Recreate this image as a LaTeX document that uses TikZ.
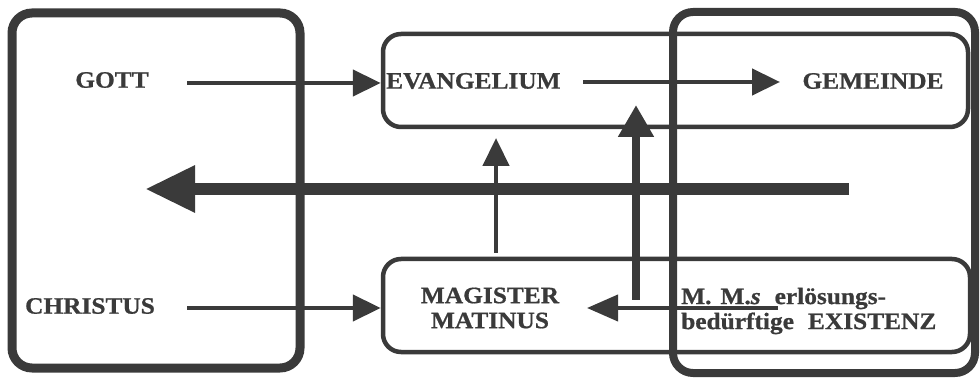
\documentclass[tikz,border=0pt]{standalone}
\usepackage{fontspec}
\setmainfont{Liberation Serif}[FakeStretch=1.08, BoldFeatures={FakeBold=0.8}, BoldItalicFeatures={FakeBold=0.8}]
\usetikzlibrary{arrows.meta}
\definecolor{ink}{RGB}{58,58,58}
\tikzset{
  bigbox/.style={draw=ink, line width=9pt, rounded corners=20pt, inner sep=0pt},
  tallbox/.style={draw=ink, line width=8pt, rounded corners=20pt, inner sep=0pt},
  rowbox/.style={draw=ink, line width=4.5pt, rounded corners=18pt, inner sep=0pt},
  lbl/.style={text=ink, font=\fontsize{23.5}{25}\selectfont\bfseries, inner sep=0pt},
  arr/.style={draw=ink, line width=4.5pt, -{Triangle[length=28pt,width=26pt]}},
  thickarr/.style={draw=ink, line width=8pt, -{Triangle[length=32pt,width=34pt]}},
  hugearr/.style={draw=ink, line width=12pt, -{Triangle[length=50pt,width=44pt]}}
}
\begin{document}
\begin{tikzpicture}[x=1pt,y=-1pt]
\useasboundingbox (0,0) rectangle (980,379);
% boxes
\node[bigbox, minimum width=288pt, minimum height=355pt] (lbox) at (156,190.5) {};
\node[rowbox, minimum width=585pt, minimum height=93pt] (evbox) at (675.5,80.5) {};
\node[rowbox, minimum width=587pt, minimum height=93pt] (magbox) at (676.5,305.5) {};
\node[tallbox, minimum width=302pt, minimum height=361pt] (tbox) at (824,192.5) {};
% labels
\node[lbl] (gott) at (112,80) {GOTT};
\node[lbl] (christus) at (90,306) {CHRISTUS};
\node[lbl, anchor=west] (evang) at (386,81) {EVANGELIUM};
\node[lbl] (gemeinde) at (873,81) {GEMEINDE};
\node[lbl, align=center] (magister) at (490,308) {MAGISTER\\MATINUS};
\node[lbl, align=left, anchor=west] (existenz) at (681,311) {M.\hspace{9pt}M.{\itshape s}\hspace{14pt}erlösungs-\\bedürftige\hspace{14pt}EXISTENZ};
% connector end points
\coordinate (gottS) at (187,83);
\coordinate (christS) at (187,308);
\coordinate (evS) at (583,82);
\coordinate (gemT) at (780,82);
\coordinate (upS) at (496,253);
\coordinate (upT) at (496,138);
\coordinate (thS) at (636,300);
\coordinate (thT) at (636,105);
\coordinate (mmS) at (778,308);
\coordinate (mmT) at (587,308);
\coordinate (bigS) at (849,189);
\coordinate (bigT) at (145,189);
% connectors
\draw[hugearr] (bigS) -- (bigT);
\draw[arr] (gottS) -- (evbox.west |- gottS);
\draw[arr] (christS) -- (magbox.west |- christS);
\draw[arr] (evS) -- (gemT);
\draw[arr] (upS) -- (upT);
\draw[thickarr] (thS) -- (thT);
\draw[arr, line width=4pt, -{Triangle[length=31pt,width=26pt]}] (mmS) -- (mmT);
\end{tikzpicture}
\end{document}
